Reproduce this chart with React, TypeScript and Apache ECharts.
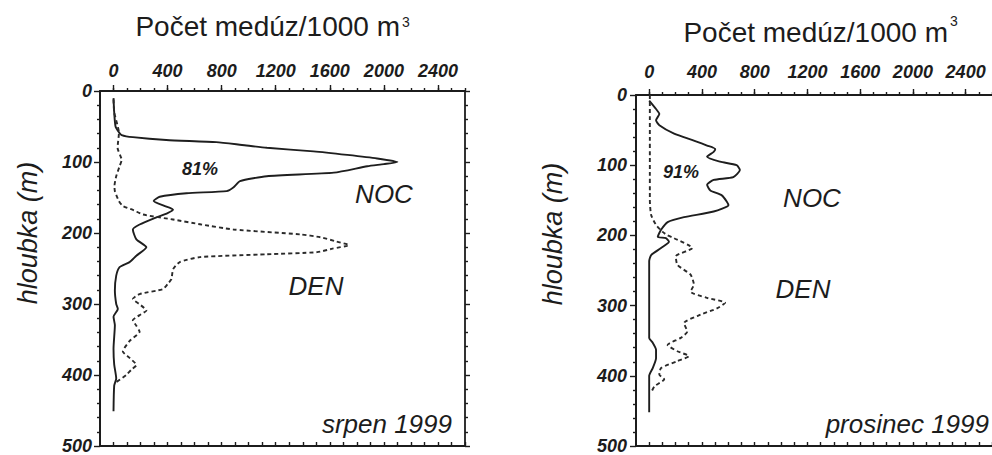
import React, { useEffect, useRef } from "react";
import * as echarts from "echarts";

// ---------- axis ticks ----------
const xMajorTicks = [0, 400, 800, 1200, 1600, 2000, 2400];
const xMinorTicks = [0, 100, 200, 300, 400, 500, 600, 700, 800, 900, 1000, 1100, 1200, 1300, 1400, 1500, 1600, 1700, 1800, 1900, 2000, 2100, 2200, 2300, 2400, 2500, 2600];

// ---------- srpen 1999 ----------
const augNightDepth = [10, 30, 50, 58, 62, 65, 69, 72, 76, 80, 85, 90, 95, 100, 103, 106, 115, 120, 127, 136, 141, 144, 149, 155, 162, 167, 172, 178, 188, 195, 209, 220, 232, 241, 248, 260, 281, 300, 307, 318, 330, 363, 385, 405, 415, 451];
const augNightCount = [0, 5, 15, 40, 60, 143, 390, 760, 950, 1134, 1480, 1729, 1950, 2100, 2000, 1877, 1630, 1134, 936, 886, 837, 540, 342, 297, 380, 440, 400, 317, 193, 143, 169, 243, 169, 119, 45, 20, 10, 20, 32, 0, 10, 0, 5, 20, 5, 0];

const augDayDepth = [12, 30, 59, 80, 97, 106, 120, 134, 141, 155, 162, 168, 174, 181, 188, 195, 202, 206, 212, 217, 222, 227, 230, 234, 241, 251, 265, 272, 279, 286, 293, 300, 309, 316, 323, 331, 339, 352, 367, 376, 386, 393, 400, 410];
const augDayCount = [0, 5, 40, 30, 60, 45, 20, 7, 10, 40, 69, 150, 218, 440, 650, 886, 1382, 1530, 1650, 1741, 1620, 1506, 1134, 639, 490, 441, 428, 400, 366, 193, 143, 190, 243, 190, 143, 170, 193, 120, 69, 120, 169, 130, 94, 20];

// ---------- prosinec 1999 ----------
const decNightDepth = [8, 20, 27, 36, 43, 55, 65, 72, 77, 81, 88, 95, 100, 107, 117, 121, 128, 136, 143, 152, 157, 166, 174, 181, 192, 202, 204, 209, 218, 228, 237, 300, 346, 353, 363, 375, 389, 400, 452];
const decNightCount = [0, 52, 77, 52, 77, 189, 339, 439, 501, 489, 439, 538, 663, 688, 638, 489, 439, 464, 551, 589, 601, 489, 264, 140, 90, 65, 127, 150, 90, 15, 0, 0, 0, 27, 52, 52, 27, 0, 0];

const decDayDepth = [0, 50, 100, 150, 171, 185, 195, 200, 204, 218, 230, 242, 256, 270, 280, 289, 296, 304, 313, 325, 337, 346, 356, 365, 372, 379, 389, 398, 405, 415, 424];
const decDayCount = [5, 5, 5, 5, 15, 52, 102, 140, 189, 327, 202, 214, 314, 339, 314, 439, 576, 514, 389, 264, 289, 239, 140, 214, 301, 214, 90, 77, 114, 40, 15];

const FONT = '"Liberation Sans", Arial, sans-serif';
const INK = "#1c1c1c";

function pairs(depth: number[], count: number[]) {
  return depth.map((d, i) => [count[i], d]);
}

function gridAxes(gridIndex: number, topMargin: number, yMargin: number, showRightTicks: boolean) {
  const labelStyle = {
    fontSize: 18,
    fontWeight: "bold" as const,
    fontStyle: "italic" as const,
    fontFamily: FONT,
    color: INK,
    formatter: (v: number) => String(v),
  };
  const lineStyle = { color: INK, width: 1.4 };
  const xAxes: any[] = [
    {
      gridIndex,
      type: "value",
      position: "top",
      min: -100,
      max: 2600,
      axisLine: { show: true, onZero: false, lineStyle: { color: INK, width: 1.8 } },
      axisTick: { show: true, inside: false, length: 6, customValues: xMajorTicks, lineStyle },
      axisLabel: { ...labelStyle, margin: topMargin, customValues: xMajorTicks },
      splitLine: { show: false },
    },
    {
      gridIndex,
      type: "value",
      position: "top",
      min: -100,
      max: 2600,
      axisLine: { show: false, onZero: false },
      axisTick: { show: true, inside: false, length: 3, customValues: xMinorTicks, lineStyle },
      axisLabel: { show: false },
      splitLine: { show: false },
    },
    {
      gridIndex,
      type: "value",
      position: "bottom",
      min: -100,
      max: 2600,
      axisLine: { show: true, onZero: false, lineStyle: { color: INK, width: 1.8 } },
      axisTick: { show: true, inside: true, length: 4, customValues: xMinorTicks, lineStyle },
      axisLabel: { show: false },
      splitLine: { show: false },
    },
  ];
  const yAxes: any[] = [
    {
      gridIndex,
      type: "value",
      position: "left",
      inverse: true,
      min: 0,
      max: 500,
      interval: 100,
      axisLine: { show: true, onZero: false, lineStyle: { color: INK, width: 2 } },
      axisTick: { show: true, length: 6, lineStyle },
      minorTick: { show: true, splitNumber: 5, length: 3, lineStyle },
      axisLabel: { ...labelStyle, margin: yMargin },
      splitLine: { show: false },
      minorSplitLine: { show: false },
    },
  ];
  if (showRightTicks) {
    yAxes.push({
      gridIndex,
      type: "value",
      position: "right",
      inverse: true,
      min: 0,
      max: 500,
      interval: 100,
      axisLine: { show: true, onZero: false, lineStyle: { color: INK, width: 1.8 } },
      axisTick: { show: true, length: 5, lineStyle },
      minorTick: { show: true, splitNumber: 5, length: 3, lineStyle },
      axisLabel: { show: false },
      splitLine: { show: false },
      minorSplitLine: { show: false },
    });
  }
  return { xAxes, yAxes };
}

function txt(x: number, y: number, text: string, size: number, opts: any = {}) {
  return {
    type: "text",
    x,
    y,
    rotation: opts.rotation || 0,
    silent: true,
    style: {
      text,
      fill: INK,
      fontSize: size,
      fontFamily: FONT,
      fontStyle: opts.italic ? "italic" : "normal",
      fontWeight: opts.bold ? "bold" : "normal",
      align: opts.align || "center",
      verticalAlign: "middle",
    },
  };
}

export default function App() {
  const ref = useRef<HTMLDivElement>(null);
  useEffect(() => {
    if (!ref.current) return;
    const chart = echarts.init(ref.current, null, { renderer: "svg" });
    const left = gridAxes(0, 11, 8, true);
    const right = gridAxes(1, 14, 9, false);
    const lineSolid = { color: "#1e1e1e", width: 1.9 };
    const lineDash = { color: "#2a2a2a", width: 1.9, type: [4, 3] as any };
    chart.setOption({
      animation: false,
      backgroundColor: "#ffffff",
      grid: [
        { left: 100, top: 91, width: 365, height: 357, show: false },
        { left: 636, top: 95, width: 361, height: 355, show: false },
      ],
      xAxis: [...left.xAxes, ...right.xAxes],
      yAxis: [...left.yAxes, ...right.yAxes],
      series: [
        { type: "line", name: "NOC srpen", xAxisIndex: 0, yAxisIndex: 0, data: pairs(augNightDepth, augNightCount), showSymbol: false, symbol: "none", smooth: 0.2, lineStyle: lineSolid },
        { type: "line", name: "DEN srpen", xAxisIndex: 0, yAxisIndex: 0, data: pairs(augDayDepth, augDayCount), showSymbol: false, symbol: "none", smooth: 0.2, lineStyle: lineDash },
        { type: "line", name: "NOC prosinec", xAxisIndex: 3, yAxisIndex: 2, data: pairs(decNightDepth, decNightCount), showSymbol: false, symbol: "none", smooth: 0.2, lineStyle: lineSolid },
        { type: "line", name: "DEN prosinec", xAxisIndex: 3, yAxisIndex: 2, data: pairs(decDayDepth, decDayCount), showSymbol: false, symbol: "none", smooth: 0.2, lineStyle: lineDash },
      ],
      graphic: [
        txt(400, 26, "Počet medúz/1000 m", 28, { align: "right" }),
        txt(402, 22, "3", 14, { align: "left" }),
        txt(948, 32, "Počet medúz/1000 m", 28, { align: "right" }),
        txt(950, 21, "3", 14, { align: "left" }),
        txt(28, 233, "hloubka (m)", 27, { italic: true, rotation: Math.PI / 2 }),
        txt(553, 234, "hloubka (m)", 27, { italic: true, rotation: Math.PI / 2 }),
        txt(200, 169, "81%", 18, { italic: true, bold: true }),
        txt(384, 194, "NOC", 26, { italic: true }),
        txt(316, 286, "DEN", 26, { italic: true }),
        txt(452, 424, "srpen 1999", 26, { italic: true, align: "right" }),
        txt(681, 172, "91%", 18, { italic: true, bold: true }),
        txt(812, 198, "NOC", 26, { italic: true }),
        txt(803, 289, "DEN", 26, { italic: true }),
        txt(989, 424, "prosinec 1999", 26, { italic: true, align: "right" }),
      ],
    });
    return () => chart.dispose();
  }, []);
  return (
    <div
      ref={ref}
      style={{ position: "fixed", left: 0, top: 0, width: 992, height: 455, background: "#fff" }}
    />
  );
}
